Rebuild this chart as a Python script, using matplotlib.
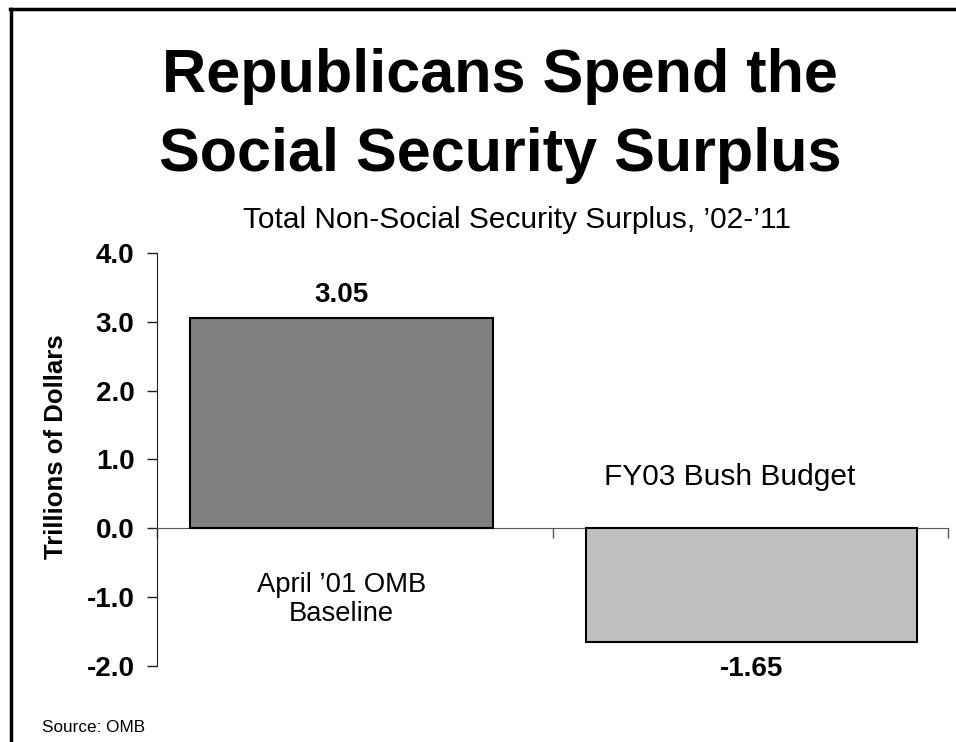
import matplotlib
matplotlib.use("Agg")
import matplotlib.pyplot as plt
from matplotlib.lines import Line2D

plt.rcParams['font.family'] = ['Liberation Sans', 'DejaVu Sans']

categories = ["April \u201901 OMB\nBaseline", "FY03 Bush Budget"]
values = [3.05, -1.65]
value_labels = ["3.05", "-1.65"]
yticks = [-2.0, -1.0, 0.0, 1.0, 2.0, 3.0, 4.0]
title = "Republicans Spend the\nSocial Security Surplus"
subtitle = "Total Non-Social Security Surplus, \u201902-\u201911"
ylabel = "Trillions of Dollars"
source = "Source: OMB"

W, H = 956, 742
fig = plt.figure(figsize=(W/100, H/100), dpi=100)
ax = fig.add_axes([157/W, (H-665.7)/H, (948-157)/W, (665.7-253)/H])

lefts = [0.083, 1.085]
widths = [0.767, 0.837]
colors = ["#808080", "#C0C0C0"]
bars = ax.bar(lefts, values, width=widths, align='edge', color=colors,
              edgecolor='black', linewidth=1.5, zorder=3)

ax.set_xlim(0, 2)
ax.set_ylim(-2, 4)
ax.set_yticks(yticks)
ax.set_yticklabels([f"{t:.1f}" for t in yticks], fontsize=20, fontweight='bold')
ax.set_xticks([0, 1, 2])
ax.set_xticklabels([])
ax.spines['top'].set_visible(False)
ax.spines['right'].set_visible(False)
ax.spines['bottom'].set_position(('data', 0))
ax.spines['bottom'].set_color('#555555')
ax.spines['left'].set_color('#222222')
ax.tick_params(axis='y', length=7.2, width=1, direction='out', pad=9, colors='#222222', labelcolor='black')
ax.tick_params(axis='x', length=7.2, width=1, direction='out', colors='#555555')

ax.set_ylabel(ylabel, fontsize=18.5, fontweight='bold')
ax.yaxis.set_label_coords(-0.112, 0.53)

# value labels
for b, v, lab in zip(bars, values, value_labels):
    cx = b.get_x() + b.get_width()/2
    if v >= 0:
        ax.annotate(lab, (cx, v), xytext=(0, 17), textcoords='offset points',
                    ha='center', va='center', fontsize=20, fontweight='bold')
    else:
        ax.annotate(lab, (cx, v), xytext=(0, -20), textcoords='offset points',
                    ha='center', va='center', fontsize=20, fontweight='bold')

# category labels
c0 = bars[0].get_x() + bars[0].get_width()/2
ax.text(c0, -1.04, categories[0], ha='center', va='center', fontsize=19.7, linespacing=1.15)
ax.text(1.449, 0.74, categories[1], ha='center', va='center', fontsize=21.5)

fig.text(500/W, 1-116/H, title, ha='center', va='center', fontsize=44,
         fontweight='bold', linespacing=1.48)
fig.text(517/W, 1-220/H, subtitle, ha='center', va='center', fontsize=21.5)
fig.text(42/W, 1-728/H, source, ha='left', va='center', fontsize=12.3)

# frame
fig.add_artist(Line2D([10/W, 1.0], [1-8.5/H, 1-8.5/H], transform=fig.transFigure, color='black', lw=2.5))
fig.add_artist(Line2D([11/W, 11/W], [0.0, 1-8.5/H], transform=fig.transFigure, color='black', lw=2.5))

fig.savefig("out.png", dpi=100)
